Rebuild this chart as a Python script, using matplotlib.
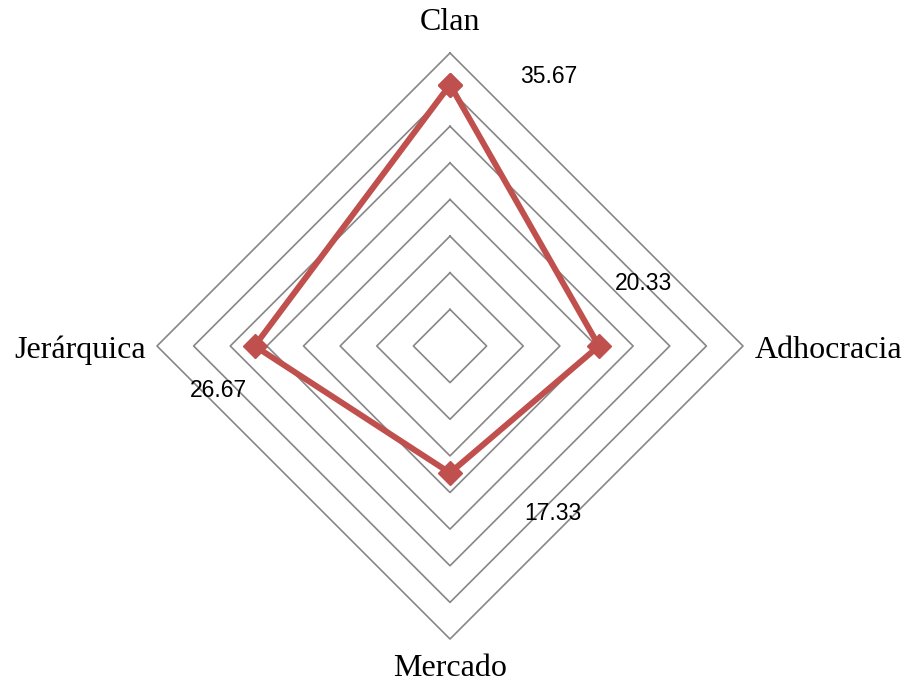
import numpy as np
import matplotlib
matplotlib.use("Agg")
import matplotlib.pyplot as plt

categories = ["Clan", "Adhocracia", "Mercado", "Jerárquica"]
values = [35.67, 20.33, 17.33, 26.67]
value_labels = ["35.67", "20.33", "17.33", "26.67"]
ring_levels = [5, 10, 15, 20, 25, 30, 35, 40]
r_max = 40

W, H = 906, 685
cx, cy = 450, 346      # center in pixels
px_per_unit = 293 / r_max

fig = plt.figure(figsize=(W / 100, H / 100), dpi=100)
ax = fig.add_axes([0, 0, 1, 1])
ax.set_xlim(-cx / px_per_unit, (W - cx) / px_per_unit)
ax.set_ylim(-(H - cy) / px_per_unit, cy / px_per_unit)
ax.axis("off")

n = len(categories)
angles = np.arange(n) * 2 * np.pi / n  # clockwise from top

def to_xy(r, a):
    return r * np.sin(a), r * np.cos(a)

# diamond grid rings
ang_closed = np.append(angles, angles[0])
for lv in ring_levels:
    gx, gy = to_xy(np.full(len(ang_closed), lv), ang_closed)
    ax.plot(gx, gy, color="#878787", lw=1.2, zorder=1)

# data series
vals = np.array(values)
vx, vy = to_xy(np.append(vals, vals[0]), ang_closed)
ax.plot(vx, vy, color="#C0504D", lw=4.3, marker="D", markersize=12,
        markerfacecolor="#C0504D", markeredgecolor="#C0504D",
        solid_joinstyle="miter", zorder=3)

# value labels (offsets in points)
offsets = [(71, 6), (32, 45), (74, -29), (-26, -32)]
for v, a, lab, off in zip(values, angles, value_labels, offsets):
    x, y = to_xy(v, a)
    ax.annotate(lab, (x, y), xytext=off, textcoords="offset points",
                ha="center", va="center", fontsize=16.5,
                family=["Liberation Sans", "DejaVu Sans"], color="black")

# category labels
serif = ["Liberation Serif", "DejaVu Serif"]
fs = 23
ax.text(0, (cy - 23) / px_per_unit, "Clan", ha="center", va="center",
        fontsize=fs, family=serif)
ax.text(0, -(669 - cy) / px_per_unit, "Mercado", ha="center", va="center",
        fontsize=fs, family=serif)
ax.text((755 - cx) / px_per_unit, -(350 - cy) / px_per_unit, "Adhocracia",
        ha="left", va="center", fontsize=fs, family=serif)
ax.text((146 - cx) / px_per_unit, -(350 - cy) / px_per_unit, "Jerárquica",
        ha="right", va="center", fontsize=fs, family=serif)

fig.savefig("out.png", dpi=100, facecolor="white")
